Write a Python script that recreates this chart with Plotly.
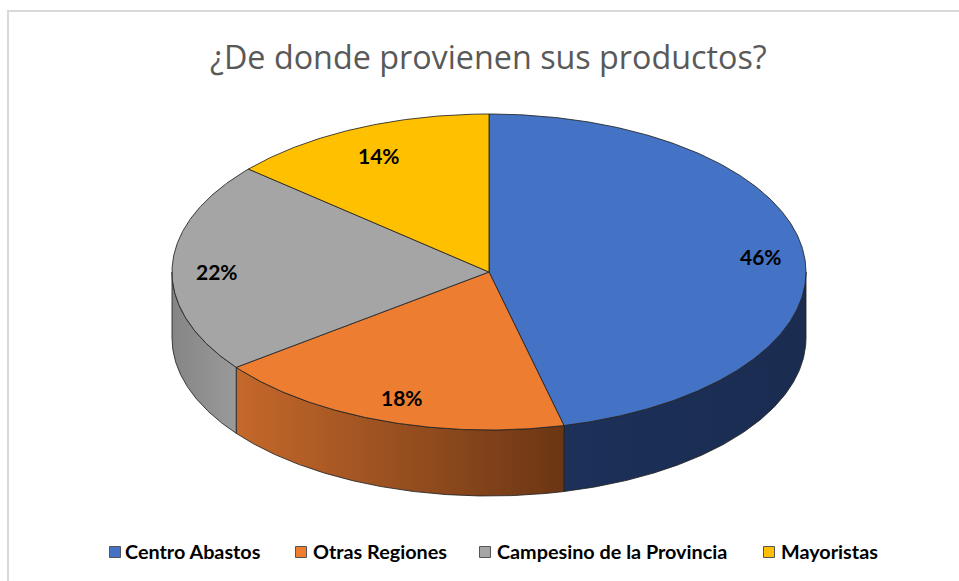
import numpy as np
import plotly.graph_objects as go

# --- data ---
categories = ["Centro Abastos", "Otras Regiones", "Campesino de la Provincia", "Mayoristas"]
values = [46.2, 18.49, 21.6, 13.71]
labels = ["46%", "18%", "22%", "14%"]
title = "¿De donde provienen sus productos?"

# --- style / layout ---
top_colors = ["#4472C4", "#ED7D31", "#A5A5A5", "#FFC000"]
wall_grad = [("#1C3059", "#1A2C50"), ("#C5682B", "#6B3614"), ("#858585", "#9A9A9A"), None]
CX, CY, RX, RY, DEPTH = 489.0, 272.0, 317.0, 158.0, 66.0
EDGE = "rgba(35,35,35,0.85)"
label_xy = [(761, 256), (402, 397.5), (217, 271), (379, 155.5)]
legend_swatch_x = [115, 301, 485, 769]
legend_text_x = [123, 311, 495, 779]
LEG_Y = 551


def arc(t0, t1, dy=0.0):
    t = np.radians(np.linspace(t0, t1, max(3, int(abs(t1 - t0) * 2))))
    return CX + RX * np.sin(t), CY - RY * np.cos(t) + dy


fig = go.Figure()
cum = np.concatenate([[0], np.cumsum(values)]) / sum(values) * 360.0

# side walls: the part of every slice on the front half of the pie
for i, cat in enumerate(categories):
    a0, a1 = max(cum[i], 90.0), min(cum[i + 1], 270.0)
    if a1 <= a0 or wall_grad[i] is None:
        continue
    x0, y0 = arc(a0, a1)
    x1, y1 = arc(a1, a0, DEPTH)
    fig.add_trace(go.Scatter(
        x=np.r_[x0, x1, x0[0]], y=np.r_[y0, y1, y0[0]], mode="lines", name=cat + " (lado)",
        line=dict(color=EDGE, width=1), fill="toself", showlegend=False, hoverinfo="skip",
        fillgradient=dict(type="horizontal",
                          colorscale=[[0, wall_grad[i][0]], [1, wall_grad[i][1]]]),
    ))

# top faces
for i, cat in enumerate(categories):
    x, y = arc(cum[i], cum[i + 1])
    fig.add_trace(go.Scatter(
        x=np.r_[CX, x, CX], y=np.r_[CY, y, CY], mode="lines", name=cat,
        line=dict(color=EDGE, width=1), fill="toself", fillcolor=top_colors[i],
        showlegend=False, hoverinfo="name",
    ))

# legend row
for i, cat in enumerate(categories):
    fig.add_trace(go.Scatter(
        x=[legend_swatch_x[i]], y=[LEG_Y + 1], mode="markers", showlegend=False, hoverinfo="skip",
        marker=dict(symbol="square", size=11, color=top_colors[i],
                    line=dict(color="#555555", width=1)),
    ))
    fig.add_annotation(x=legend_text_x[i], y=LEG_Y, text=f"<b>{cat}</b>", showarrow=False,
                       xanchor="left", font=dict(family="Lato", size=19.8, color="#000000"))

for (lx, ly), txt in zip(label_xy, labels):
    fig.add_annotation(x=lx, y=ly, text=f"<b>{txt}</b>", showarrow=False,
                       font=dict(family="Lato", size=21, color="#000000"))

fig.add_annotation(x=488, y=55.5, text=title, showarrow=False,
                   font=dict(family="Open Sans", size=32.3, color="#595959"))

fig.add_shape(type="path", path="M 8 581 L 8 11 L 959 11",
              line=dict(color="#D9D9D9", width=2), layer="below")

fig.update_layout(
    width=959, height=581, margin=dict(l=0, r=0, t=0, b=0),
    paper_bgcolor="white", plot_bgcolor="white", showlegend=False,
    xaxis=dict(range=[0, 959], visible=False, fixedrange=True),
    yaxis=dict(range=[581, 0], visible=False, fixedrange=True),
)
fig.write_html("out.html", config={"displayModeBar": False},
               post_script="document.body.style.margin='0';document.body.style.overflow='hidden';")
